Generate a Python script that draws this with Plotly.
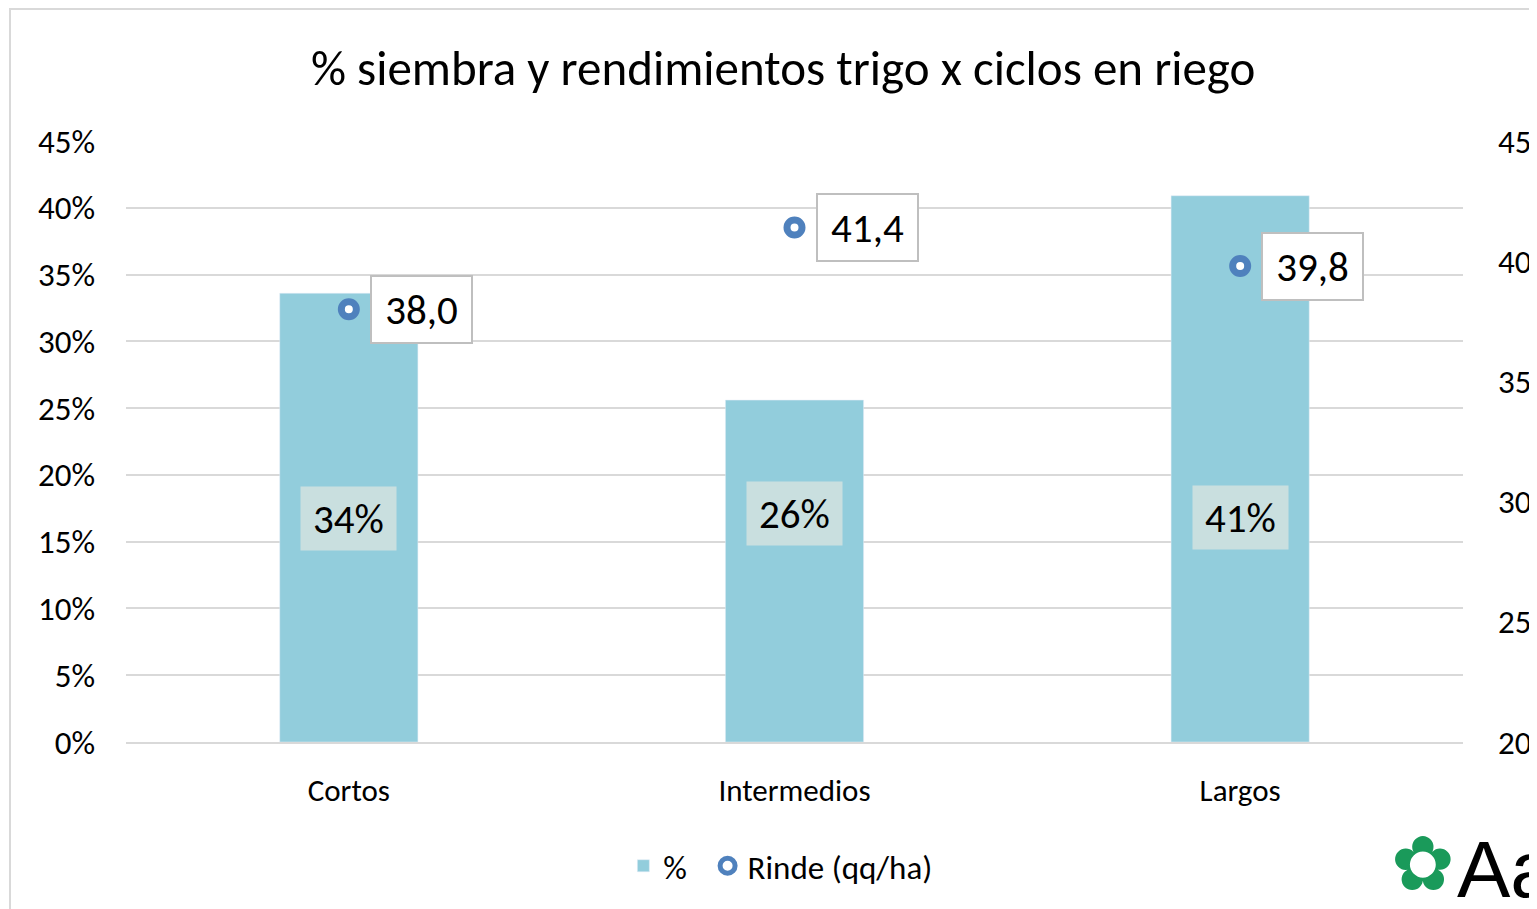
import plotly.graph_objects as go

categories = ["Cortos", "Intermedios", "Largos"]
pct_siembra = [0.336, 0.256, 0.409]
rinde = [38.0, 41.4, 39.8]
rinde_labels = ["38,0", "41,4", "39,8"]
left_ticks = [0, 0.05, 0.10, 0.15, 0.20, 0.25, 0.30, 0.35, 0.40, 0.45]
right_ticks = [20, 25, 30, 35, 40, 45]

FONT = "Carlito, Lato, sans-serif"
BAR_COLOR = "#92CDDC"
MARK_COLOR = "#4F81BD"
pct_label_y = [0.167, 0.171, 0.168]

fig = go.Figure()
fig.add_trace(go.Bar(
    x=categories, y=pct_siembra, name="%", marker_color=BAR_COLOR,
    width=0.31, yaxis="y", legend="legend",
))
fig.add_trace(go.Scatter(
    x=categories, y=rinde, name="Rinde (qq/ha)", mode="markers", yaxis="y2",
    legend="legend2",
    marker=dict(symbol="circle", size=15, color="white",
                line=dict(color=MARK_COLOR, width=7)),
))

annotations = []
for c, v, ly in zip(categories, pct_siembra, pct_label_y):
    annotations.append(dict(
        x=c, y=ly, xref="x", yref="y", text=f"{round(v*100):d}%",
        showarrow=False, font=dict(family=FONT, size=41, color="#000"),
        bgcolor="#C9DFDF", borderpad=8, width=79, height=47,
        xanchor="center", yanchor="middle",
    ))
for c, v, t in zip(categories, rinde, rinde_labels):
    annotations.append(dict(
        x=c, y=v, xref="x", yref="y2", text=t, showarrow=False,
        font=dict(family=FONT, size=41, color="#000"),
        bgcolor="white", bordercolor="#BFBFBF", borderwidth=2, borderpad=9,
        width=81, height=47,
        xanchor="left", yanchor="middle", xshift=21,
    ))
# logo
annotations.append(dict(
    x=1.0, y=-0.125, xref="paper", yref="paper", text="<b>✿</b>", showarrow=False,
    font=dict(family="DejaVu Sans", size=76, color="#1A9A5A"),
    xanchor="left", yanchor="top", xshift=-74,
))
annotations.append(dict(
    x=1.0, y=-0.135, xref="paper", yref="paper", text="Aa", showarrow=False,
    font=dict(family="Liberation Sans", size=80, color="#000"),
    xanchor="left", yanchor="top", xshift=-8,
))

legend_font = dict(family=FONT, size=33, color="#000")

fig.update_layout(
    width=1529, height=901,
    margin=dict(l=118, r=74, t=133, b=167, autoexpand=False),
    paper_bgcolor="white", plot_bgcolor="white",
    font=dict(family=FONT, color="#000"),
    title=dict(text="% siembra y rendimientos trigo x ciclos en riego",
               x=0.507, xanchor="center", y=1 - 60 / 901, yanchor="middle",
               yref="container", font=dict(family=FONT, size=49, color="#000")),
    bargap=0.69,
    xaxis=dict(showline=True, linecolor="#D9D9D9", linewidth=2,
               tickfont=dict(family=FONT, size=31, color="#000"),
               ticks="", ticklabelstandoff=20, automargin=False),
    yaxis=dict(range=[0, 0.45], tickvals=left_ticks, tickformat=".0%",
               showgrid=True, gridcolor="#D9D9D9", gridwidth=2,
               zeroline=False, showline=False, automargin=False,
               tickfont=dict(family=FONT, size=33, color="#000"),
               ticklabelstandoff=30),
    yaxis2=dict(range=[20, 45], tickvals=right_ticks, overlaying="y", side="right",
                showgrid=False, zeroline=False, showline=False, automargin=False,
                tickfont=dict(family=FONT, size=33, color="#000"),
                ticklabelstandoff=34),
    legend=dict(orientation="h", x=0.372, xanchor="left", y=-0.206, yanchor="middle",
                font=legend_font, itemwidth=30, bgcolor="rgba(0,0,0,0)"),
    legend2=dict(orientation="h", x=0.435, xanchor="left", y=-0.206, yanchor="middle",
                 font=legend_font, itemwidth=30, bgcolor="rgba(0,0,0,0)"),
    showlegend=True,
    annotations=annotations,
    shapes=[dict(type="rect", xref="paper", yref="paper",
                 x0=(2 - 118) / 1337, x1=1.3, y0=-0.6, y1=(734 - 1) / 601,
                 line=dict(color="#D9D9D9", width=2), fillcolor="rgba(0,0,0,0)",
                 layer="below")],
)

fig.write_html("out.html")
